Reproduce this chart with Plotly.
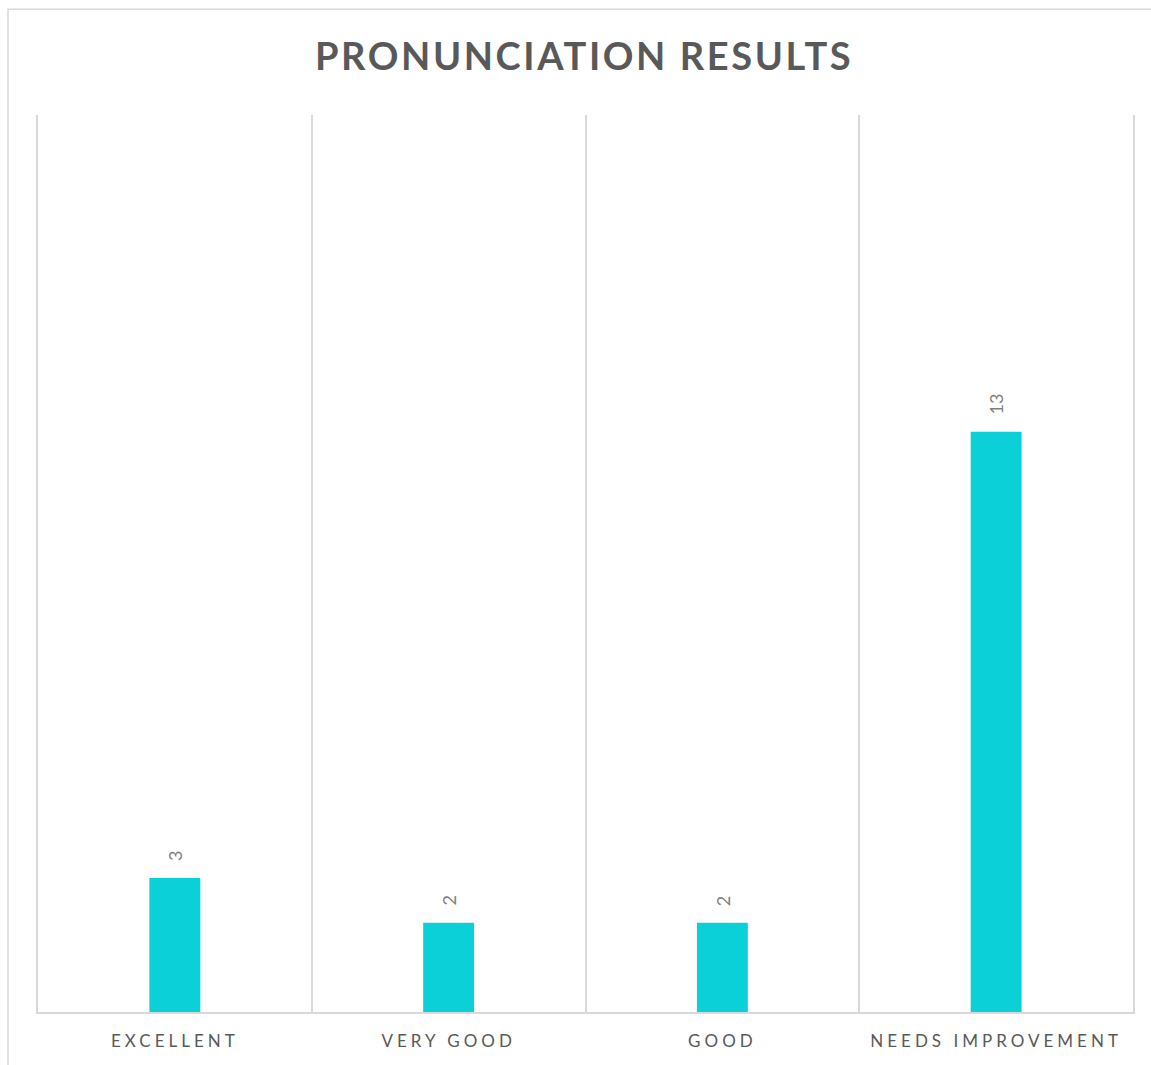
import plotly.graph_objects as go

categories = ["EXCELLENT", "VERY GOOD", "GOOD", "NEEDS IMPROVEMENT"]
values = [3, 2, 2, 13]
title_text = "PRONUNCIATION RESULTS"

BAR = "#0cd0d8"
GRID = "#d9d9d9"
TXT = "#595959"

def spaced(s, px):
    return '<span style="letter-spacing:%spx">%s</span>' % (px, s)

fig = go.Figure()
fig.add_trace(go.Bar(
    x=categories, y=values, marker=dict(color=BAR, line=dict(width=0)),
    width=0.186, hoverinfo="skip",
))

for c, v in zip(categories, values):
    fig.add_annotation(
        x=c, y=v, text=str(v), showarrow=False, textangle=-90,
        yanchor="bottom", xanchor="center", yshift=15,
        font=dict(family="Lato, Open Sans, sans-serif", size=18, color="#7f7f7f"),
    )

fig.add_shape(type="rect", xref="paper", yref="paper",
              x0=-0.0274, x1=1.05, y0=-0.12, y1=1.118,
              line=dict(color=GRID, width=1.5), fillcolor="rgba(0,0,0,0)", layer="below")

fig.update_layout(
    width=1151, height=1065,
    margin=dict(l=38, r=18, t=115, b=53),
    paper_bgcolor="white", plot_bgcolor="white",
    showlegend=False,
    title=dict(text="<b>" + spaced(title_text, 2.6) + "</b>", x=0.5075, xanchor="center",
               y=1 - 57 / 1065, yanchor="middle", yref="container",
               font=dict(family="Lato, Open Sans, sans-serif", size=38, color=TXT)),
    xaxis=dict(
        type="category", range=[-0.5, 3.5], automargin=False,
        tickmode="array", tickvals=categories,
        ticktext=[spaced(c, 4) for c in categories],
        tickson="boundaries", showgrid=True, gridcolor=GRID, gridwidth=1.5,
        ticks="", ticklabelstandoff=13,
        showline=True, linecolor=GRID, linewidth=1.5,
        tickfont=dict(family="Lato, Open Sans, sans-serif", size=17, color=TXT),
        fixedrange=True,
    ),
    yaxis=dict(
        range=[0, 20.1], showgrid=False, zeroline=False, showticklabels=False,
        automargin=False,
        showline=True, mirror=True, linecolor=GRID, linewidth=1.5, ticks="",
        fixedrange=True,
    ),
)

fig.write_html("out.html")
